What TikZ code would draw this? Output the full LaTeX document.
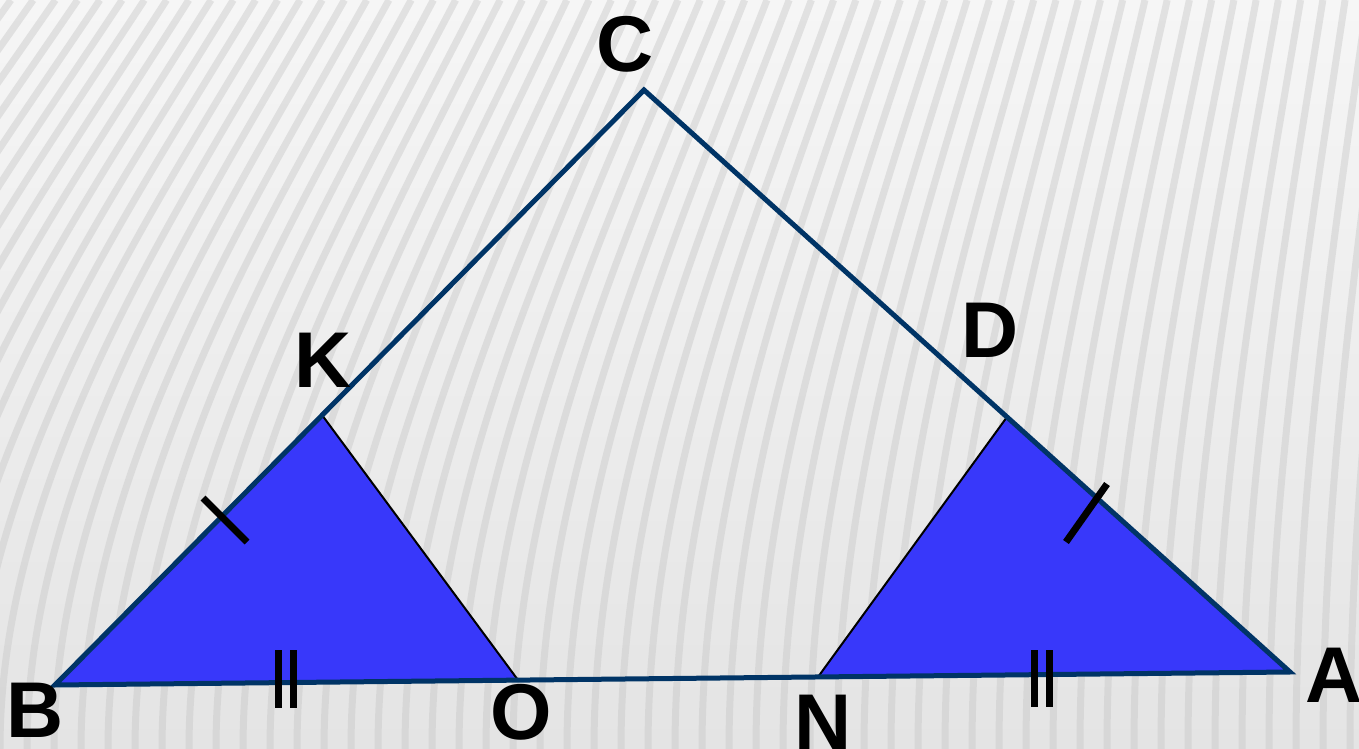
\documentclass[tikz,border=0pt]{standalone}
\usepackage{fontspec}
\setmainfont{Liberation Sans}
\definecolor{navy}{RGB}{0,52,102}
\definecolor{tri}{RGB}{56,56,250}
\definecolor{bgtop}{RGB}{246,246,246}
\definecolor{bgbot}{RGB}{228,228,228}
\definecolor{stripe}{RGB}{200,200,200}
\tikzset{
  edge/.style={draw=navy,line width=0.1cm,line join=miter},
  thin/.style={draw=black,line width=0.04cm},
  tick/.style={draw=black,line width=0.14cm},
  lbl/.style={font=\fontsize{45}{45}\selectfont\bfseries,inner sep=0pt,text=black}
}
\begin{document}
\begin{tikzpicture}[x=0.02cm,y=-0.02cm]
\useasboundingbox (0,0) rectangle (1359,749);
\shade[top color=bgtop,bottom color=bgbot] (0,0) rectangle (1359,749);
\begin{scope}
\clip (0,0) rectangle (1359,749);
\foreach \i in {-14,...,52}{
  \pgfmathsetmacro\xb{\i*27}
  \pgfmathsetmacro\s{max(0,300*(1-\xb/1700))}
  \draw[stripe,opacity=0.45,line width=0.14cm] (\xb,749) .. controls (\xb,480) and (\xb+0.55*\s,230) .. (\xb+\s,0);
}
\end{scope}
% vertices
\coordinate (C) at (644,90);
\coordinate (K) at (322,415);
\coordinate (D) at (1007,417);
\coordinate (B) at (55,685);
\coordinate (O) at (518,680);
\coordinate (N) at (818,677);
\coordinate (A) at (1290,672);
% filled triangles
\fill[tri] (B) -- (K) -- (O) -- cycle;
\fill[tri] (N) -- (D) -- (A) -- cycle;
\draw[thin] (K) -- (O);
\draw[thin] (D) -- (N);
% big triangle
\draw[edge] (B) -- (C) -- (A) -- cycle;
% tick marks
\coordinate (t1a) at (203,498); \coordinate (t1b) at (247,542);
\draw[tick] (t1a) -- (t1b);
\coordinate (t2a) at (1107,484); \coordinate (t2b) at (1066,542);
\draw[tick] (t2a) -- (t2b);
\coordinate (t3a) at (278,650); \coordinate (t3b) at (278,708);
\coordinate (t4a) at (293,650); \coordinate (t4b) at (293,708);
\draw[tick] (t3a) -- (t3b);
\draw[tick] (t4a) -- (t4b);
\coordinate (t5a) at (1034,650); \coordinate (t5b) at (1034,707);
\coordinate (t6a) at (1049,650); \coordinate (t6b) at (1049,707);
\draw[tick] (t5a) -- (t5b);
\draw[tick] (t6a) -- (t6b);
% labels
\node[lbl] (lC) at (625,44) {C};
\node[lbl] (lK) at (323,360) {K};
\node[lbl] (lD) at (990,330) {D};
\node[lbl] (lB) at (35,710) {B};
\node[lbl] (lO) at (521,712) {O};
\node[lbl] (lN) at (823,722) {N};
\node[lbl] (lA) at (1334,675) {A};
\end{tikzpicture}
\end{document}
